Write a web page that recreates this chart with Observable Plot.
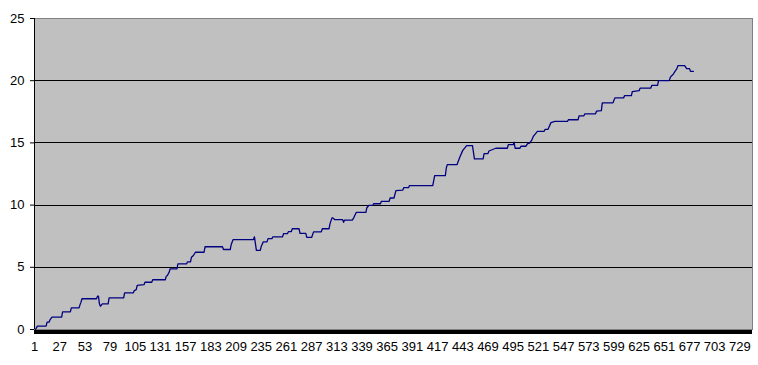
<!DOCTYPE html>
<html>
<head>
<meta charset="utf-8">
<script src="https://cdn.jsdelivr.net/npm/d3@7"></script>
<script src="https://cdn.jsdelivr.net/npm/@observablehq/plot@0.6"></script>
<style>
  html, body { margin: 0; padding: 0; background: #ffffff; }
  #chart { width: 758px; height: 365px; }
</style>
</head>
<body>
<div id="chart"></div>
<script>
// Row index (category number) at each change point of the series
const rowIndex = [
  2, 4, 13, 14, 16, 17, 19, 29, 30, 38, 39, 47, 48, 49, 50, 65, 66, 67, 68, 69,
  71, 77, 78, 93, 94, 103, 104, 106, 107, 114, 115, 122, 123, 136, 137, 138, 140, 141, 148, 149,
  158, 159, 162, 163, 165, 167, 176, 177, 195, 196, 203, 204, 206, 227, 228, 230, 234, 235, 237, 241,
  242, 246, 247, 257, 258, 262, 263, 266, 267, 274, 275, 281, 282, 287, 289, 297, 298, 305, 306, 308,
  309, 311, 319, 320, 321, 329, 330, 333, 343, 344, 346, 350, 351, 358, 359, 367, 368, 372, 374, 381,
  382, 387, 388, 412, 414, 425, 426, 427, 437, 440, 443, 447, 453, 455, 464, 465, 469, 470, 477, 489,
  490, 495, 496, 497, 502, 503, 508, 510, 512, 514, 516, 520, 527, 528, 531, 532, 534, 538, 551, 552,
  562, 563, 568, 569, 580, 581, 586, 587, 598, 600, 609, 610, 617, 618, 625, 626, 637, 638, 644, 645,
  656, 657, 658, 660, 662, 664, 665, 672, 674, 677, 678, 681
];
// Series value at each of those rows
const seriesValue = [
  0.00, 0.27, 0.27, 0.59, 0.59, 0.78, 0.99, 0.99, 1.42, 1.42, 1.74, 1.74, 2.00, 2.20, 2.47, 2.47, 2.68, 2.68, 2.06, 1.87,
  2.06, 2.06, 2.55, 2.55, 2.95, 2.95, 3.13, 3.20, 3.55, 3.60, 3.80, 3.80, 4.00, 4.00, 4.29, 4.32, 4.61, 4.88, 4.88, 5.28,
  5.28, 5.44, 5.44, 5.81, 5.95, 6.21, 6.21, 6.65, 6.65, 6.43, 6.43, 6.83, 7.23, 7.23, 7.45, 6.36, 6.36, 6.68, 7.04, 7.04,
  7.30, 7.30, 7.45, 7.45, 7.70, 7.70, 7.86, 7.86, 8.10, 8.10, 7.72, 7.72, 7.40, 7.40, 7.85, 7.85, 8.10, 8.10, 8.51, 8.97,
  8.97, 8.83, 8.83, 8.62, 8.80, 8.80, 8.91, 9.41, 9.41, 9.79, 9.97, 9.97, 10.11, 10.11, 10.30, 10.30, 10.57, 10.57, 11.17, 11.20,
  11.40, 11.40, 11.57, 11.57, 12.37, 12.37, 12.98, 13.25, 13.25, 13.87, 14.40, 14.78, 14.78, 13.72, 13.72, 14.14, 14.14, 14.35, 14.57, 14.57,
  14.86, 14.86, 15.05, 14.57, 14.57, 14.73, 14.73, 14.94, 14.98, 15.20, 15.55, 15.93, 15.93, 16.09, 16.09, 16.28, 16.63, 16.73, 16.73, 16.86,
  16.86, 17.18, 17.18, 17.34, 17.34, 17.55, 17.60, 18.22, 18.22, 18.62, 18.62, 18.80, 18.80, 19.13, 19.20, 19.40, 19.40, 19.62, 19.62, 20.00,
  20.00, 20.23, 20.36, 20.50, 20.75, 20.97, 21.21, 21.21, 20.97, 20.97, 20.75, 20.75
];
// Category axis: number of categories and the labelled ones
const categoryCount = 742;
const xTickLabels = [1, 27, 53, 79, 105, 131, 157, 183, 209, 235, 261, 287, 313, 339, 365, 391, 417, 443, 469, 495, 521, 547, 573, 599, 625, 651, 677, 703, 729];
const yTickLabels = [0, 5, 10, 15, 20, 25];
const yGridValues = [5, 10, 15, 20];

const data = rowIndex.map((r, i) => ({ row: r, value: seriesValue[i] }));

const chart = Plot.plot({
  width: 758,
  height: 365,
  marginLeft: 34,
  marginRight: 6,
  marginTop: 18,
  marginBottom: 36,
  style: { background: "#ffffff", fontFamily: "'Liberation Sans', Arial, sans-serif", fontSize: "13px", color: "#000" },
  x: { domain: [1, categoryCount], type: "linear", label: null },
  y: { domain: [0, 25], label: null },
  marks: [
    Plot.frame({ fill: "#c0c0c0", stroke: "#808080" }),
    Plot.ruleY(yGridValues, { stroke: "#000", strokeWidth: 1, shapeRendering: "crispEdges" }),
    Plot.ruleX([1], { stroke: "#000", strokeWidth: 1, shapeRendering: "crispEdges" }),
    Plot.axisY({ ticks: yTickLabels, tickSize: 4, tickPadding: 6, fontSize: 13, label: null, tickFormat: d => String(d) }),
    Plot.axisX({ ticks: xTickLabels, tickSize: 0, tickPadding: 12, fontSize: 13, label: null, tickFormat: d => String(d) }),
    Plot.line(data, { x: "row", y: "value", stroke: "#000080", strokeWidth: 1.3 }),
    Plot.ruleY([0], { stroke: "#000", strokeWidth: 4, dy: 2, shapeRendering: "crispEdges" })
  ]
});
document.getElementById("chart").appendChild(chart);
</script>
</body>
</html>
